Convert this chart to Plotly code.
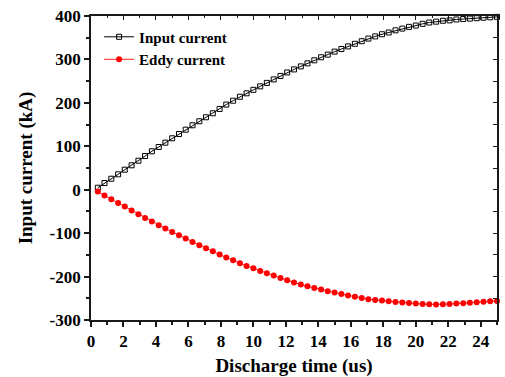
import plotly.graph_objects as go

# Discharge time (us): 60 samples
time_us = [0.42, 0.83, 1.25, 1.67, 2.08, 2.50, 2.92, 3.33, 3.75, 4.17,
           4.58, 5.00, 5.42, 5.83, 6.25, 6.67, 7.08, 7.50, 7.92, 8.33,
           8.75, 9.17, 9.58, 10.00, 10.42, 10.83, 11.25, 11.67, 12.08, 12.50,
           12.92, 13.33, 13.75, 14.17, 14.58, 15.00, 15.42, 15.83, 16.25, 16.67,
           17.08, 17.50, 17.92, 18.33, 18.75, 19.17, 19.58, 20.00, 20.42, 20.83,
           21.25, 21.67, 22.08, 22.50, 22.92, 23.33, 23.75, 24.17, 24.58, 25.00]

input_current = [4.6, 15.4, 25.3, 35.5, 46.1, 56.2, 66.8, 77.6, 88.5, 98.4,
                 108.3, 118.4, 128.3, 138.2, 148.4, 157.6, 166.8, 176.0, 186.0, 196.0,
                 205.0, 214.0, 222.0, 230.0, 238.0, 246.0, 254.0, 262.0, 270.0, 277.0,
                 284.0, 291.0, 298.0, 305.0, 311.0, 318.0, 324.0, 330.0, 336.0, 342.0,
                 348.0, 353.0, 358.0, 362.0, 367.0, 371.0, 375.0, 378.0, 382.0, 385.0,
                 387.0, 389.0, 390.0, 392.0, 393.0, 394.0, 395.0, 396.0, 397.0, 398.0]

eddy_current = [-4.1, -13.4, -21.9, -30.4, -38.7, -47.9, -56.5, -65.0, -73.3, -81.8,
                -89.4, -97.2, -104.8, -112.4, -120.3, -127.9, -134.8, -141.7, -149.3, -156.2,
                -162.4, -169.4, -175.6, -180.9, -187.1, -192.4, -197.7, -203.2, -208.5, -213.8,
                -218.4, -222.4, -226.3, -229.9, -233.9, -236.9, -240.1, -243.5, -246.5, -249.5,
                -252.0, -254.0, -255.3, -256.9, -258.5, -259.5, -260.8, -262.2, -263.4, -264.0,
                -264.3, -264.0, -263.2, -262.2, -261.3, -260.2, -259.2, -258.2, -257.0, -256.0]

x_ticks = [0, 2, 4, 6, 8, 10, 12, 14, 16, 18, 20, 22, 24]
x_labels = ["0", "2", "4", "6", "8", "10", "12", "14", "16", "18", "20", "22", "24"]
y_ticks = [-300, -200, -100, 0, 100, 200, 300, 400]
y_labels = ["-300", "-200", "-100", "0", "100", "200", "300", "400"]

FONT = "Liberation Serif"
tickfont = dict(family=FONT, size=17, color="black", weight="bold")
AXC = "#1a1a1a"

fig = go.Figure()
fig.add_trace(go.Scatter(
    x=time_us, y=input_current, name="Input current", mode="lines+markers",
    line=dict(color="black", width=1),
    marker=dict(symbol="square-open", size=5, color="black", line=dict(width=1)),
    cliponaxis=False))
fig.add_trace(go.Scatter(
    x=time_us, y=eddy_current, name="Eddy current", mode="lines+markers",
    line=dict(color="#ff2020", width=1),
    marker=dict(symbol="circle", size=6, color="#ff0000"),
    cliponaxis=False))
# invisible trace on mirror axes (for inward ticks on top/right)
fig.add_trace(go.Scatter(
    x=time_us, y=eddy_current, xaxis="x2", yaxis="y2", mode="markers",
    marker=dict(opacity=0), showlegend=False, hoverinfo="skip"))

fig.update_layout(
    width=505, height=377,
    margin=dict(l=91, r=8, t=16, b=57),
    plot_bgcolor="white", paper_bgcolor="white",
    showlegend=True,
    legend=dict(x=0.02, y=0.985, xanchor="left", yanchor="top",
                font=dict(family=FONT, size=15, color="black", weight="bold"),
                bgcolor="rgba(0,0,0,0)", tracegroupgap=0, itemwidth=30),
    xaxis=dict(range=[0, 25], tickvals=x_ticks, ticktext=x_labels, automargin=False,
               ticks="outside", ticklen=5, tickwidth=1.5, tickcolor=AXC,
               minor=dict(ticks="outside", dtick=1, ticklen=3, tickwidth=1.5, tickcolor=AXC),
               showline=True, linewidth=1.8, linecolor=AXC,
               showgrid=False, zeroline=False, tickfont=tickfont,
               title=dict(text="Discharge time (us)", standoff=14,
                          font=dict(family=FONT, size=19, color="black", weight="bold"))),
    yaxis=dict(range=[-300, 400], tickvals=y_ticks, ticktext=y_labels, automargin=False,
               ticks="outside", ticklen=5, tickwidth=1.5, tickcolor=AXC,
               minor=dict(ticks="outside", dtick=50, ticklen=3, tickwidth=1.5, tickcolor=AXC),
               showline=True, linewidth=1.8, linecolor=AXC,
               showgrid=False, zeroline=False, tickfont=tickfont,
               title=dict(text="Input current (kA)", standoff=12,
                          font=dict(family=FONT, size=19, color="black", weight="bold"))),
    xaxis2=dict(range=[0, 25], overlaying="x", side="top", anchor="y2", automargin=False,
                tickvals=x_ticks, ticks="inside", ticklen=4, tickwidth=1, tickcolor=AXC,
                minor=dict(ticks="inside", dtick=1, ticklen=2, tickwidth=1, tickcolor=AXC),
                showticklabels=False, showline=True, linewidth=1.8, linecolor=AXC,
                showgrid=False, zeroline=False),
    yaxis2=dict(range=[-300, 400], overlaying="y", side="right", anchor="x2", automargin=False,
                tickvals=y_ticks, ticks="inside", ticklen=4, tickwidth=1, tickcolor=AXC,
                minor=dict(ticks="inside", dtick=50, ticklen=4, tickwidth=1, tickcolor=AXC),
                showticklabels=False, showline=True, linewidth=1.8, linecolor=AXC,
                showgrid=False, zeroline=False),
)

fig.write_html("out.html")
